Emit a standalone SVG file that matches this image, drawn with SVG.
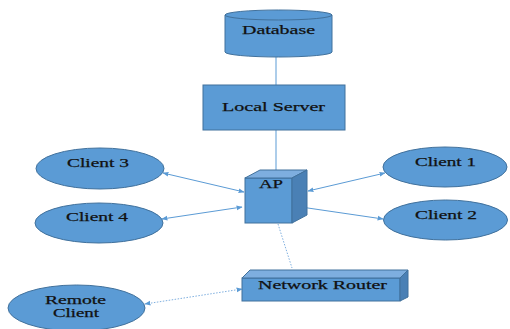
<svg xmlns="http://www.w3.org/2000/svg" width="510" height="329" viewBox="0 0 510 329">
<defs>
<style>
.n{fill:#5B9BD5;stroke:#41719C;stroke-width:1}
.top{fill:#7EAEDF;stroke:#41719C;stroke-width:1}
.side{fill:#4A80B5;stroke:#41719C;stroke-width:1}
.t{font-family:"Liberation Serif","Times New Roman",serif;font-size:13px;font-weight:normal;fill:#111;stroke:#111;stroke-width:0.25;text-anchor:middle}
.s{font-size:12px}
.c{stroke:#5B9BD5;stroke-width:1;fill:none}
.d{stroke:#7FB0E0;stroke-width:1;fill:none;stroke-dasharray:1.5 1.5}
</style>
<marker id="ah" viewBox="0 0 10 10" refX="9" refY="5" markerWidth="6" markerHeight="6" orient="auto-start-reverse" markerUnits="userSpaceOnUse">
<path d="M0,1 L10,5 L0,9 Z" fill="#5B9BD5"/>
</marker>
</defs>
<g id="connectors">
<line class="c" x1="276" y1="57" x2="276" y2="85"/>
<line class="c" x1="276" y1="130" x2="276" y2="170"/>
<line class="c" x1="163" y1="173" x2="244" y2="192" marker-start="url(#ah)" marker-end="url(#ah)"/>
<line class="c" x1="162" y1="219" x2="242" y2="207" marker-start="url(#ah)" marker-end="url(#ah)"/>
<line class="c" x1="308" y1="191" x2="385" y2="173" marker-start="url(#ah)" marker-end="url(#ah)"/>
<line class="c" x1="301" y1="207" x2="383" y2="219" marker-start="url(#ah)" marker-end="url(#ah)"/>
<line class="d" x1="278" y1="224" x2="292" y2="268"/>
<line class="d" x1="145" y1="304" x2="242" y2="289" marker-start="url(#ah)" marker-end="url(#ah)"/>
</g>
<g id="database">
<path class="n" d="M225,15 A53.5,5 0 0 1 332,15 V52 A53.5,5 0 0 1 225,52 Z"/>
<path class="n" d="M225,15 A53.5,5 0 0 0 332,15"/>
<text class="t" x="278.5" y="34" textLength="73" lengthAdjust="spacingAndGlyphs">Database</text>
</g>
<g id="local-server">
<rect class="n" x="203" y="85" width="142" height="45"/>
<text class="t" x="273.5" y="111" textLength="103" lengthAdjust="spacingAndGlyphs">Local Server</text>
</g>
<g id="ap">
<rect class="n" x="245" y="178" width="47" height="45"/>
<polygon class="top" points="245,178 260,170 307,170 292,178"/>
<polygon class="side" points="292,178 307,170 307,215 292,223"/>
<text class="t" x="271" y="188" textLength="24" lengthAdjust="spacingAndGlyphs">AP</text>
</g>
<g id="client3">
<ellipse class="n" cx="100" cy="168.5" rx="64" ry="20.5"/>
<text class="t" x="98" y="167" textLength="62" lengthAdjust="spacingAndGlyphs">Client 3</text>
</g>
<g id="client4">
<ellipse class="n" cx="99" cy="223" rx="64" ry="20"/>
<text class="t" x="97" y="221" textLength="62" lengthAdjust="spacingAndGlyphs">Client 4</text>
</g>
<g id="client1">
<ellipse class="n" cx="445" cy="167" rx="62" ry="20"/>
<text class="t" x="445.5" y="166" textLength="61" lengthAdjust="spacingAndGlyphs">Client 1</text>
</g>
<g id="client2">
<ellipse class="n" cx="445.5" cy="220" rx="62" ry="20"/>
<text class="t" x="446" y="219" textLength="62" lengthAdjust="spacingAndGlyphs">Client 2</text>
</g>
<g id="network-router">
<rect class="n" x="242" y="278" width="158" height="23"/>
<polygon class="top" points="242,278 250,270 408,270 400,278"/>
<polygon class="side" points="400,278 408,270 408,297 400,301"/>
<text class="t" x="322.5" y="289" textLength="129" lengthAdjust="spacingAndGlyphs">Network Router</text>
</g>
<g id="remote-client">
<ellipse class="n" cx="76.5" cy="308" rx="68.5" ry="23"/>
<text class="t s" x="75.5" y="304" textLength="61" lengthAdjust="spacingAndGlyphs">Remote</text>
<text class="t s" x="76" y="317" textLength="46" lengthAdjust="spacingAndGlyphs">Client</text>
</g>
</svg>
